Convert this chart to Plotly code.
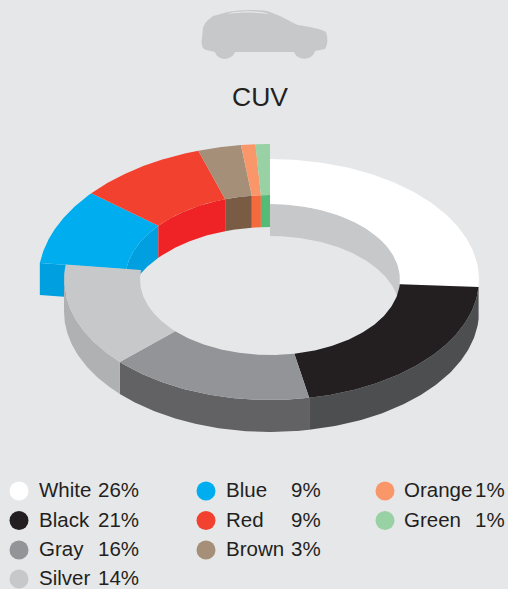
import numpy as np
import plotly.graph_objects as go

categories = ["White", "Black", "Gray", "Silver", "Blue", "Red", "Brown", "Orange", "Green"]
shares = [26, 21, 16, 14, 9, 9, 3, 1, 1]
top_colors = ["#ffffff", "#231f20", "#929497", "#c7c8ca", "#00aeef", "#f2412e", "#a68f78", "#f9976b", "#98d1a3"]
wall_colors = ["#c7c8ca", "#c7c8ca", None, None, "#009fdf", "#ef2325", "#7a5c45", "#f46a3c", "#55bb77"]
side_colors = ["#4d4e50", "#4d4e50", "#626264", "#b0b1b3", "#009fdf", None, None, None, None]
lifted = ["Blue", "Red", "Brown", "Orange", "Green"]
title = "CUV"

BG = "#e6e7e9"
INK = "#231f20"
CX = 270
DEPTH = 32
BASE = dict(cy=279.5, out_r=209, out_l=206, out_y=120.5, in_x=130, in_y=75.5)
LIFT = dict(cy=280.0, out_r=232, out_l=232, out_y=136.0, in_x=145, in_y=85.0)

total = sum(shares)
edges = np.cumsum([0] + shares) / total * 2 * np.pi
spans = {c: (edges[i], edges[i + 1]) for i, c in enumerate(categories)}


def arc(a, b, rx_r, rx_l, ry, cy, dy=0, n=90):
    t = np.linspace(a, b, n)
    s = np.sin(t)
    x = CX + np.where(s >= 0, rx_r, rx_l) * s
    y = cy + dy - ry * np.cos(t)
    return x, y


def outer(g, a, b, dy=0):
    return arc(a, b, g["out_r"], g["out_l"], g["out_y"], g["cy"], dy)


def inner(g, a, b, dy=0):
    return arc(a, b, g["in_x"], g["in_x"], g["in_y"], g["cy"], dy)


fig = go.Figure()


def poly(parts, color):
    x = np.concatenate([p[0] for p in parts])
    y = np.concatenate([p[1] for p in parts])
    fig.add_trace(go.Scatter(
        x=np.append(x, x[0]), y=np.append(y, y[0]), mode="lines", fill="toself",
        fillcolor=color, line=dict(width=0, color=color), hoverinfo="skip", showlegend=False))


def rev(p):
    return p[0][::-1], p[1][::-1]


# lifted slices: inner walls, exposed end face, top faces
for c in categories:
    if c in lifted:
        i = categories.index(c)
        a, b = spans[c]
        poly([inner(LIFT, a, b), rev(inner(LIFT, a, b, DEPTH))], wall_colors[i])
a = spans["Blue"][0]
poly([outer(LIFT, a, a, 0)[0:2], inner(LIFT, a, a, 0), inner(LIFT, a, a, DEPTH), outer(LIFT, a, a, DEPTH)],
     side_colors[categories.index("Blue")])
for c in lifted:
    i = categories.index(c)
    a, b = spans[c]
    poly([outer(LIFT, a, b), rev(inner(LIFT, a, b))], top_colors[i])

# inner wall seen through the hole of the base ring
half = np.arcsin((DEPTH / 2) / BASE["in_y"])
poly([inner(BASE, 0, np.pi / 2 + half), rev(inner(BASE, 0, np.pi / 2 - half, DEPTH))], wall_colors[0])

# base slices: outer side faces, then top faces
for c in categories:
    if c not in lifted:
        i = categories.index(c)
        a, b = spans[c]
        lo, hi = max(a, np.pi / 2), min(b, 3 * np.pi / 2)
        if hi > lo:
            poly([outer(BASE, lo, hi), rev(outer(BASE, lo, hi, DEPTH))], side_colors[i])
for c in categories:
    if c not in lifted:
        i = categories.index(c)
        a, b = spans[c]
        poly([outer(BASE, a, b), rev(inner(BASE, a, b))], top_colors[i])

# legend
col_dot = [19, 206, 385]
col_name = [37.5, 225, 403]
col_pct = [140, 322, 506]
row_y = [491, 520.5, 550, 579]
text_lift = 1.5
col_rows = [4, 3, 2]
slots = [(k, r) for k, n in enumerate(col_rows) for r in range(n)]
fig.add_trace(go.Scatter(
    x=[col_dot[k] for k, r in slots], y=[row_y[r] for k, r in slots], mode="markers",
    marker=dict(size=19, color=top_colors, line=dict(width=0)), hoverinfo="skip", showlegend=False))

annotations = [dict(x=260, y=97, text=title, showarrow=False, xanchor="center", yanchor="middle",
                    font=dict(size=26.5, color=INK, family="Liberation Sans"))]
for (k, r), c, v in zip(slots, categories, shares):
    annotations.append(dict(x=col_name[k], y=row_y[r] - text_lift, text=c, showarrow=False, xanchor="left",
                            yanchor="middle", borderpad=0,
                            font=dict(size=20.5, color=INK, family="Liberation Sans")))
    annotations.append(dict(x=col_pct[k], y=row_y[r] - text_lift, text=f"{v}%", showarrow=False, xanchor="right",
                            yanchor="middle", borderpad=0,
                            font=dict(size=20.5, color=INK, family="Liberation Sans")))

# vehicle silhouette pictogram
car = ("M203,28 C205,22 208,20 213,16 L228,12 C240,10 262,9 270,12 L280,16 C288,20 295,24 298,25 "
       "C310,27 322,29 326,32 C328,38 328,44 325,49 L315,51 C313,60 298,62 294,52 L235,52 "
       "C232,61 217,61 215,52 L206,50 C202,49 201,44 202,38 Z")
shine = "M228,14 C232,11 262,10 269,14 C255,12 240,12 228,14 Z"

fig.update_layout(
    width=508, height=589, autosize=False, margin=dict(l=0, r=0, t=0, b=0),
    paper_bgcolor=BG, plot_bgcolor=BG, showlegend=False,
    xaxis=dict(range=[0, 508], visible=False, fixedrange=True),
    yaxis=dict(range=[589, 0], visible=False, fixedrange=True),
    annotations=annotations,
    shapes=[dict(type="path", path=car, xref="x", yref="y", fillcolor="#c7c8ca", line=dict(width=0), layer="below"),
            dict(type="path", path=shine, xref="x", yref="y", fillcolor=BG, line=dict(width=0), layer="below")],
)
fig.write_html("out.html", config=dict(displayModeBar=False),
               post_script="document.body.style.margin='0';document.body.style.overflow='hidden';document.body.style.background='#e6e7e9';")
